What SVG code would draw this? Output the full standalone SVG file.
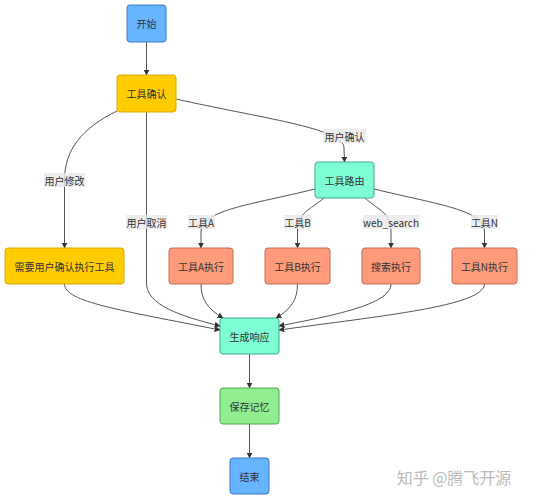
<svg xmlns="http://www.w3.org/2000/svg" width="560" height="500" viewBox="0 0 560 500">
<defs>
<marker id="arr" viewBox="0 0 10 10" refX="9" refY="5" markerWidth="6" markerHeight="6" orient="auto-start-reverse" markerUnits="userSpaceOnUse">
<path d="M0,0 L10,5 L0,10 z" fill="#333"/>
</marker>
<style>
text{font-family:"Noto Sans CJK SC","Noto Sans",sans-serif;font-size:10px;fill:#333;text-anchor:middle;dominant-baseline:central}
.n rect{stroke-width:1}
.blue rect{fill:#66b3ff;stroke:#3a7bc8}
.gold rect{fill:#ffcc00;stroke:#d9a800}
.teal rect{fill:#7fffd4;stroke:#3aa88a}
.sal rect{fill:#ff9b7a;stroke:#c26a50}
.grn rect{fill:#90ee90;stroke:#4fa84f}
.e path{fill:none;stroke:#555;stroke-width:1;marker-end:url(#arr)}
.lbl rect{fill:#e8e8e8;opacity:0.8}
.wm{fill:#bbb;font-size:16px;font-family:"Noto Sans CJK SC",sans-serif}
</style>
</defs>
<rect width="560" height="500" fill="#fff"/>
<g id="connectors" class="e">
<path d="M146.5,42 L146.5,75"/>
<path d="M117,111 C82,128 64.5,150 64.5,180 L64.5,248"/>
<path d="M146.5,112 L146.5,283 C146.5,305 180,316 220,326"/>
<path d="M176,99 C260,118 344,128 344,148 L344.5,162"/>
<path d="M315,189 C250,205 201,210 201,232 L201,248"/>
<path d="M324,198 C310,210 297.5,212 297.5,232 L297.5,248"/>
<path d="M365,198 C378,210 391,212 391,232 L391,248"/>
<path d="M374,189 C440,205 484.5,210 484.5,232 L484.5,248"/>
<path d="M64.5,284 C64.5,302 120,310 220,330"/>
<path d="M201,284 C201,300 208,309 223,318"/>
<path d="M297.5,284 C297.5,300 291,309 276,318"/>
<path d="M391,284 C391,305 330,316 279,326"/>
<path d="M484.5,284 C484.5,306 380,316 279,330"/>
<path d="M249.5,354 L249.5,388"/>
<path d="M249.5,424 L249.5,458"/>
</g>
<g id="edge-labels" class="lbl">
<g><rect x="323" y="129" width="43" height="14"/><text x="344.5" y="136">用户确认</text></g>
<g><rect x="44" y="173" width="41" height="14"/><text x="64.5" y="180">用户修改</text></g>
<g><rect x="126" y="215" width="41" height="14"/><text x="146.5" y="222">用户取消</text></g>
<g><rect x="188" y="215" width="27" height="14"/><text x="201" y="222">工具A</text></g>
<g><rect x="284" y="215" width="27" height="14"/><text x="297.5" y="222">工具B</text></g>
<g><rect x="363" y="215" width="56" height="14"/><text x="391" y="222">web_search</text></g>
<g><rect x="471" y="215" width="27" height="14"/><text x="484.5" y="222">工具N</text></g>
</g>
<g id="start" class="n blue"><rect x="127" y="5" width="39" height="37" rx="3"/><text x="146.5" y="23.5">开始</text></g>
<g id="confirm" class="n gold"><rect x="117" y="75" width="59" height="37" rx="3"/><text x="146.5" y="93.5">工具确认</text></g>
<g id="router" class="n teal"><rect x="315" y="162" width="59" height="36" rx="3"/><text x="344.5" y="180">工具路由</text></g>
<g id="need" class="n gold"><rect x="5" y="248" width="119" height="36" rx="3"/><text x="64.5" y="266">需要用户确认执行工具</text></g>
<g id="toolA" class="n sal"><rect x="169" y="248" width="64" height="36" rx="3"/><text x="201" y="266">工具A执行</text></g>
<g id="toolB" class="n sal"><rect x="265" y="248" width="65" height="36" rx="3"/><text x="297.5" y="266">工具B执行</text></g>
<g id="search" class="n sal"><rect x="362" y="248" width="58" height="36" rx="3"/><text x="391" y="266">搜索执行</text></g>
<g id="toolN" class="n sal"><rect x="452" y="248" width="65" height="36" rx="3"/><text x="484.5" y="266">工具N执行</text></g>
<g id="gen" class="n teal"><rect x="220" y="318" width="59" height="36" rx="3"/><text x="249.5" y="336">生成响应</text></g>
<g id="mem" class="n grn"><rect x="220" y="388" width="59" height="36" rx="3"/><text x="249.5" y="406">保存记忆</text></g>
<g id="end" class="n blue"><rect x="230" y="458" width="39" height="36" rx="3"/><text x="249.5" y="476">结束</text></g>
<text class="wm" x="454" y="477">知乎 @腾飞开源</text>
</svg>
